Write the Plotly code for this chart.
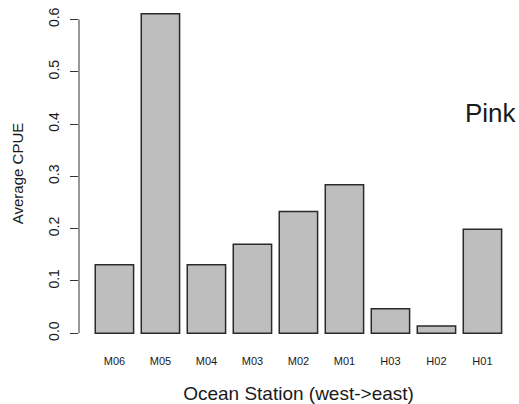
import plotly.graph_objects as go

stations = ["M06", "M05", "M04", "M03", "M02", "M01", "H03", "H02", "H01"]
avg_cpue = [0.131, 0.611, 0.131, 0.170, 0.233, 0.284, 0.047, 0.014, 0.199]
y_ticks = [0.0, 0.1, 0.2, 0.3, 0.4, 0.5, 0.6]
y_tick_text = ["0.0", "0.1", "0.2", "0.3", "0.4", "0.5", "0.6"]
species = "Pink"

FONT = "Liberation Sans, Arial, Helvetica, sans-serif"
INK = "#1a1a1a"

fig = go.Figure()
fig.add_trace(go.Bar(
    x=stations, y=avg_cpue,
    marker=dict(color="#bebebe", line=dict(color="#2a2a2a", width=1.5)),
))

fig.update_layout(
    width=519, height=404,
    margin=dict(l=79, r=1, t=1, b=58),
    paper_bgcolor="white", plot_bgcolor="white",
    bargap=1 / 6,
    showlegend=False,
    font=dict(family=FONT, color=INK),
)

fig.update_xaxes(
    type="category",
    range=[-0.77, 8.773],
    automargin=False,
    showgrid=False, zeroline=False, showline=False,
    ticks="",
    tickfont=dict(size=11, family=FONT, color=INK),
    ticklabelstandoff=7,
    title=dict(text="Ocean Station (west->east)", font=dict(size=19, family=FONT, color=INK), standoff=24),
)

fig.update_yaxes(
    range=[-0.0244, 0.6353],
    automargin=False,
    tickmode="array", tickvals=y_ticks, ticktext=y_tick_text,
    tickangle=-90,
    showgrid=False, zeroline=False, showline=False,
    ticks="outside", ticklen=8, tickwidth=1, tickcolor="#333",
    tickfont=dict(size=14, family=FONT, color=INK),
    ticklabelstandoff=5,
    title=dict(text="Average CPUE", font=dict(size=15, family=FONT, color=INK), standoff=19),
)

# axis line spanning only the tick range (as in R base graphics)
fig.add_shape(type="line", xref="paper", x0=0, x1=0, yref="y",
              y0=min(y_ticks), y1=max(y_ticks),
              line=dict(color="#333", width=1))

fig.add_annotation(text=species, xref="paper", yref="paper", x=0.938, y=0.675,
                   xanchor="center", yanchor="middle", showarrow=False,
                   font=dict(size=26, family=FONT, color=INK))

fig.write_html("out.html", config={"displayModeBar": False},
               post_script="document.body.style.margin='0';")
